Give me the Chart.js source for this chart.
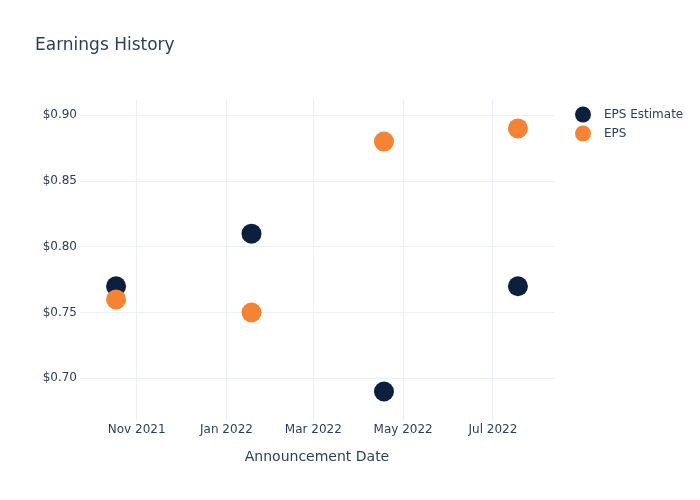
<!DOCTYPE html>
<html><head><meta charset="utf-8">
<script src="https://cdn.jsdelivr.net/npm/chart.js@4"></script>
<style>html,body{margin:0;padding:0;background:#fff}</style>
</head><body>
<canvas id="c" width="700" height="500"></canvas>
<script>
const announcementDates = ['2021-10-18', '2022-01-18', '2022-04-18', '2022-07-18'];
const epsEstimate = [0.77, 0.81, 0.69, 0.77];
const epsActual = [0.76, 0.75, 0.88, 0.89];
const seriesNames = ['EPS Estimate', 'EPS'];
const seriesColors = ['#0c1f3f', '#f68233'];
const xTickDates = ['2021-11-01', '2022-01-01', '2022-03-01', '2022-05-01', '2022-07-01'];
const xTickLabels = ['Nov 2021', 'Jan 2022', 'Mar 2022', 'May 2022', 'Jul 2022'];
const yTickValues = [0.70, 0.75, 0.80, 0.85, 0.90];
const xRange = ['2021-09-23T12:00:00Z', '2022-08-11T12:00:00Z'];
const yRange = [0.6683, 0.9116];
const chartTitle = 'Earnings History';
const xAxisTitle = 'Announcement Date';

const ts = d => new Date(d).getTime();
const FONT = "'DejaVu Sans', Verdana, sans-serif";
const TEXT = '#2a3f5f';
const GRID = '#ebf0f8';

const toPoints = vals => announcementDates.map((d, i) => ({x: ts(d), y: vals[i]}));

const decor = {
  id: 'decor',
  afterDraw(chart) {
    const ctx = chart.ctx;
    ctx.save();
    ctx.fillStyle = TEXT;
    ctx.font = '17px ' + FONT;
    ctx.textBaseline = 'alphabetic';
    ctx.textAlign = 'left';
    ctx.fillText(chartTitle, 35, 49.5);
    ctx.font = '12px ' + FONT;
    ctx.textBaseline = 'middle';
    seriesNames.forEach((name, i) => {
      const y = 114.5 + i * 19;
      ctx.beginPath();
      ctx.arc(583, y, 8, 0, Math.PI * 2);
      ctx.fillStyle = seriesColors[i];
      ctx.fill();
      ctx.fillStyle = TEXT;
      ctx.fillText(name, 604, y);
    });
    ctx.restore();
  }
};

new Chart(document.getElementById('c'), {
  type: 'scatter',
  data: {
    datasets: [
      {label: seriesNames[0], data: toPoints(epsEstimate), backgroundColor: seriesColors[0], borderWidth: 0, pointRadius: 10, order: 1},
      {label: seriesNames[1], data: toPoints(epsActual), backgroundColor: seriesColors[1], borderWidth: 0, pointRadius: 10, order: 0}
    ]
  },
  options: {
    responsive: false,
    animation: false,
    layout: {padding: {top: 100, right: 146, bottom: 0, left: 0}},
    plugins: {legend: {display: false}, tooltip: {enabled: false}, title: {display: false}},
    scales: {
      x: {
        type: 'linear',
        min: ts(xRange[0]), max: ts(xRange[1]),
        afterBuildTicks(s) { s.ticks = xTickDates.map(d => ({value: ts(d)})); },
        afterFit(s) { s.height = 80; },
        ticks: {callback: (v, i) => xTickLabels[i], font: {family: FONT, size: 12}, color: TEXT, padding: 3, maxRotation: 0, autoSkip: false},
        grid: {color: GRID, drawTicks: false, lineWidth: 1},
        border: {display: false},
        title: {display: true, text: xAxisTitle, font: {family: FONT, size: 14}, color: TEXT, padding: {top: 0, bottom: 34}}
      },
      y: {
        type: 'linear',
        min: yRange[0], max: yRange[1],
        afterBuildTicks(s) { s.ticks = yTickValues.map(v => ({value: v})); },
        afterFit(s) { s.width = 80; },
        ticks: {callback: v => '$' + Number(v).toFixed(2), font: {family: FONT, size: 12}, color: TEXT, padding: 3},
        grid: {color: GRID, drawTicks: false, lineWidth: 1},
        border: {display: false}
      }
    }
  },
  plugins: [decor]
});
</script>
</body></html>
